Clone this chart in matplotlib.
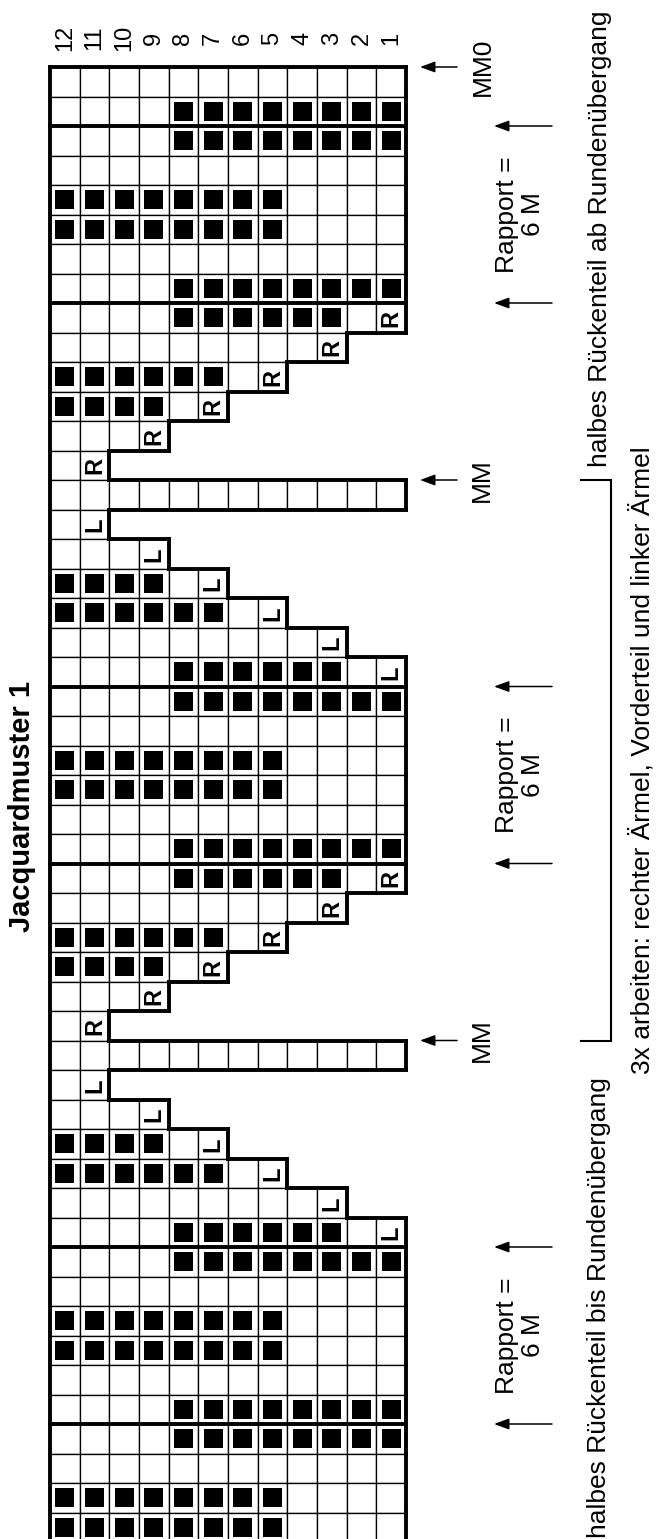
"""
Jacquardmuster 1 - knitting chart, drawn sideways like the original.
Columns are rounds (12 on the left, 1 on the right), rows are stitches.
"""

import matplotlib.pyplot as plt
from matplotlib.patches import Rectangle
from matplotlib.collections import LineCollection

plt.rcParams["font.family"] = ["Liberation Sans", "DejaVu Sans"]

# chart data: one string per stitch row, one char per round (round 12 first)
# '.' background, '#' pattern colour, 'R'/'L' decrease marks
rounds = list(range(12, 0, -1))
start_rows = ["............",
              "....########"]
rapport_rows = ["....########",
                "............",
                "########....",
                "########....",
                "............",
                "....########"]
r_steps = ["....######.R",
           ".........R",
           "######.R",
           "####.R",
           "...R",
           ".R"]
mm_row = "............"
l_steps = [".L",
           "...L",
           "####.L",
           "######.L",
           ".........L",
           "....######.L"]
end_rows = ["....########",
            "............",
            "########....",
            "########...."]

rows = []
rapport_starts = []
mm_rows = []
for part in [start_rows, "rap", r_steps, "mm", l_steps, "rap", r_steps, "mm",
             l_steps, "rap", end_rows]:
    if part == "rap":
        rapport_starts.append(len(rows))
        rows += rapport_rows
    elif part == "mm":
        mm_rows.append(len(rows))
        rows.append(mm_row)
    else:
        rows += part
n_rows = len(rows)

# --- geometry (pixels of the 659x1539 picture) ---
W, H = 659, 1539
X0, Y0 = 50, 67          # top-left corner of the grid
CW, RH = 356 / 12, 29.5  # cell width / height


def px(x):
    return (x - X0) / CW


def py(y):
    return (y - Y0) / RH


fig = plt.figure(figsize=(W / 100, H / 100), dpi=100, facecolor="white")
ax = fig.add_axes([0, 0, 1, 1])
ax.set_xlim(px(0), px(W))
ax.set_ylim(py(H), py(0))
ax.axis("off")

thin = 0.95
thick = 2.8
box = 0.64  # size of the filled square inside a cell

for r, row in enumerate(rows):
    for c, ch in enumerate(row):
        ax.add_patch(Rectangle((c, r), 1, 1, facecolor="white",
                               edgecolor="black", lw=thin, zorder=1))
        if ch == "#":
            m = (1 - box) / 2
            ax.add_patch(Rectangle((c + m, r + m), box, box,
                                   facecolor="black", lw=0, zorder=2))
        elif ch in "RL":
            ax.text(c + 0.5, r + 0.52, ch, rotation=90, ha="center",
                    va="center", fontsize=17, fontweight="bold", zorder=3)

# thick outline: left side, top, stepped right side, rapport boxes
segs = [[(0, 0), (0, n_rows + 1)], [(0, 0), (len(rows[0]), 0)]]
for r, row in enumerate(rows):
    n = len(row)
    segs.append([(n, r), (n, r + 1)])
    if r > 0 and len(rows[r - 1]) != n:
        a, b = sorted((len(rows[r - 1]), n))
        segs.append([(a, r), (b, r)])
for s in rapport_starts:
    segs.append([(0, s), (12, s)])
    segs.append([(0, s + 6), (12, s + 6)])
ax.add_collection(LineCollection(segs, colors="black", lw=thick,
                                 capstyle="projecting", zorder=4))

# round numbers above the grid
for c, rnd in enumerate(rounds):
    ax.text(c + 0.5, py(38), str(rnd), rotation=90, ha="center",
            va="center", fontsize=17)

txt = dict(rotation=90, fontsize=19)


def arrow(y, x_tail, x_head):
    ax.annotate("", xy=(px(x_head), y), xytext=(px(x_tail), y),
                arrowprops=dict(arrowstyle="-|>,head_length=0.6,head_width=0.22",
                                color="black", lw=1.1, mutation_scale=15,
                                shrinkA=0, shrinkB=0))


# MM0 / MM markers
arrow(0, 457, 420)
ax.text(px(483), 0, "MM0", ha="center", va="center", **txt)
for m in mm_rows:
    arrow(m, 457, 420)
    ax.text(px(482), m, "MM", ha="center", va="center", **txt)

# rapport markers
for s in rapport_starts:
    arrow(s, 552, 494)
    arrow(s + 6, 552, 494)
    ax.text(px(520), s + 3, "Rapport =\n6 M", ha="center", va="center",
            multialignment="center", linespacing=1.1, **txt)

# bracket for the repeated part
y_a, y_b = mm_rows
ax.plot([px(581), px(611), px(611), px(581)], [y_a, y_a, y_b, y_b],
        color="black", lw=1.5, solid_joinstyle="miter")
ax.text(px(600), py(467), "halbes Rückenteil ab Rundenübergang",
        ha="center", va="bottom", **txt)
ax.text(px(642), (y_a + y_b) / 2,
        "3x arbeiten: rechter Ärmel, Vorderteil und linker Ärmel",
        ha="center", va="center", **txt)
ax.text(px(599), py(1077), "halbes Rückenteil bis Rundenübergang",
        ha="center", va="top", **txt)

ax.text(px(22), py(807), "Jacquardmuster 1", rotation=90, ha="center",
        va="center", fontsize=21, fontweight="bold")

fig.savefig("out.png", dpi=100, facecolor="white")
